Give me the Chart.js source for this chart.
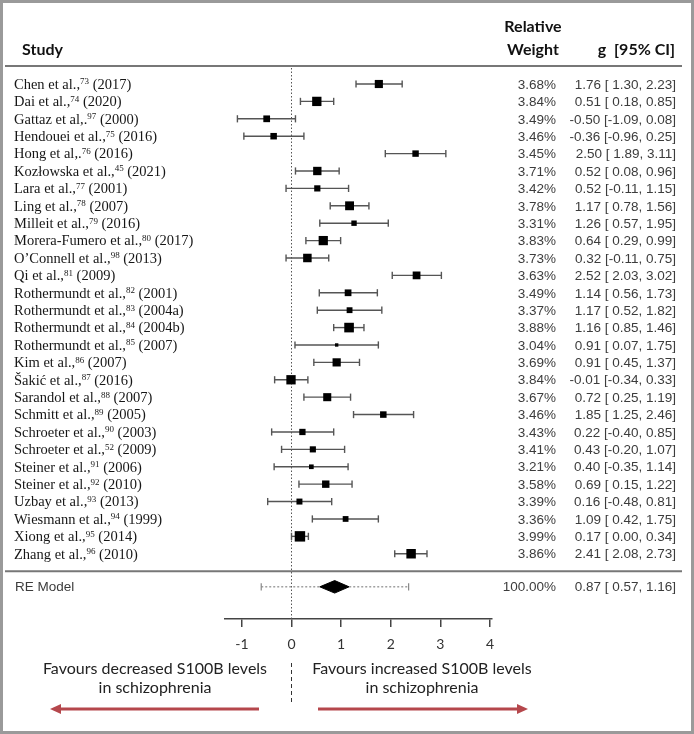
<!DOCTYPE html>
<html>
<head>
<meta charset="utf-8">
<script src="https://cdn.jsdelivr.net/npm/chart.js@4.4.1/dist/chart.umd.min.js"></script>
<style>
  html, body { margin: 0; padding: 0; background: #fff; }
  canvas { display: block; }
</style>
</head>
<body>
<canvas id="forest" width="694" height="734"></canvas>
<script>
// Study data
const authors = ['Chen et al.,', 'Dai et al.,', 'Gattaz et al,.', 'Hendouei et al.,', 'Hong et al,.',
    'Kozłowska et al.,', 'Lara et al.,', 'Ling et al.,', 'Milleit et al.,', 'Morera-Fumero et al.,',
    'O\u2019Connell et al.,', 'Qi et al.,', 'Rothermundt et al.,', 'Rothermundt et al.,', 'Rothermundt et al.,',
    'Rothermundt et al.,', 'Kim et al.,', 'Šakić et al.,', 'Sarandol et al.,', 'Schmitt et al.,',
    'Schroeter et al.,', 'Schroeter et al.,', 'Steiner et al.,', 'Steiner et al.,', 'Uzbay et al.,',
    'Wiesmann et al.,', 'Xiong et al.,', 'Zhang et al.,'];
const refs = ['73', '74', '97', '75', '76', '45', '77', '78', '79', '80', '98', '81', '82', '83', '84',
    '85', '86', '87', '88', '89', '90', '52', '91', '92', '93', '94', '95', '96'];
const years = ['2017', '2020', '2000', '2016', '2016', '2021', '2001', '2007', '2016', '2017', '2013',
    '2009', '2001', '2004a', '2004b', '2007', '2007', '2016', '2007', '2005', '2003', '2009', '2006',
    '2010', '2013', '1999', '2014', '2010'];
const weights = [3.68, 3.84, 3.49, 3.46, 3.45, 3.71, 3.42, 3.78, 3.31, 3.83, 3.73, 3.63, 3.49, 3.37,
    3.88, 3.04, 3.69, 3.84, 3.67, 3.46, 3.43, 3.41, 3.21, 3.58, 3.39, 3.36, 3.99, 3.86];
const effects = [1.76, 0.51, -0.50, -0.36, 2.50, 0.52, 0.52, 1.17, 1.26, 0.64, 0.32, 2.52, 1.14, 1.17,
    1.16, 0.91, 0.91, -0.01, 0.72, 1.85, 0.22, 0.43, 0.40, 0.69, 0.16, 1.09, 0.17, 2.41];
const lower = [1.30, 0.18, -1.09, -0.96, 1.89, 0.08, -0.11, 0.78, 0.57, 0.29, -0.11, 2.03, 0.56, 0.52,
    0.85, 0.07, 0.45, -0.34, 0.25, 1.25, -0.40, -0.20, -0.35, 0.15, -0.48, 0.42, 0.00, 2.08];
const upper = [2.23, 0.85, 0.08, 0.25, 3.11, 0.96, 1.15, 1.56, 1.95, 0.99, 0.75, 3.02, 1.73, 1.82,
    1.46, 1.75, 1.37, 0.33, 1.19, 2.46, 0.85, 1.07, 1.14, 1.22, 0.81, 1.75, 0.34, 2.73];

// Random effects summary
const pooled = [0.57, 0.87, 1.16];        // lower, estimate, upper
const predInterval = [-0.61, 2.36];
const pooledWeight = 100.00;

// Axis
const xTicks = [-1, 0, 1, 2, 3, 4];
const RE_ROW = 28.9;
const SEP_ROW = 28;

const fmtCI = (g, lo, hi) =>
    g.toFixed(2) + ' [' + (lo >= 0 ? ' ' : '') + lo.toFixed(2) + ', ' + hi.toFixed(2) + ']';

// square side grows with weight
const squareSide = w => 3.4 + (w - 3.04) * 7.4;

// Whisker datasets, one per study (the caps are the rotated 'line' points)
const whiskers = effects.map((g, i) => ({
    data: [{ x: lower[i], y: i }, { x: upper[i], y: i }],
    showLine: true,
    borderColor: '#555',
    borderWidth: 1.4,
    pointStyle: 'line',
    pointRotation: 90,
    pointRadius: 3.6,
    pointBorderColor: '#555',
    pointBorderWidth: 1.4,
    order: 2
}));

const datasets = [
    {
        label: 'Studies',
        data: effects.map((g, i) => ({ x: g, y: i })),
        pointStyle: 'rect',
        pointRadius: ctx => squareSide(weights[ctx.dataIndex]) / Math.SQRT2,
        pointBackgroundColor: '#000',
        pointBorderWidth: 0,
        order: 0
    },
    ...whiskers,
    {
        label: 'RE Model',
        data: [
            { x: pooled[0], y: RE_ROW },
            { x: pooled[1], y: RE_ROW - 0.36 },
            { x: pooled[2], y: RE_ROW },
            { x: pooled[1], y: RE_ROW + 0.36 },
            { x: pooled[0], y: RE_ROW }
        ],
        showLine: true,
        fill: 'shape',
        backgroundColor: '#000',
        borderColor: '#000',
        borderWidth: 1,
        pointRadius: 0,
        order: 0
    },
    {
        label: 'Prediction interval',
        data: [{ x: predInterval[0], y: RE_ROW }, { x: predInterval[1], y: RE_ROW }],
        showLine: true,
        borderColor: '#888',
        borderWidth: 1.2,
        borderDash: [2, 2],
        pointStyle: 'line',
        pointRotation: 90,
        pointRadius: 3.6,
        pointBorderColor: '#888',
        pointBorderWidth: 1.2,
        order: 1
    },
    {
        label: 'No effect',
        data: [{ x: 0, y: -0.92 }, { x: 0, y: 30.75 }],
        showLine: true,
        borderColor: '#555',
        borderWidth: 1,
        borderDash: [1.5, 2],
        pointRadius: 0,
        order: 3
    }
];

// Text columns, header, frame and bottom annotations
const forestText = {
    id: 'forestText',
    beforeDraw(chart) {
        const c = chart.ctx;
        c.save();
        c.fillStyle = '#fff';
        c.fillRect(0, 0, chart.width, chart.height);
        c.restore();
    },
    afterDraw(chart) {
        const c = chart.ctx;
        const ys = chart.scales.y;
        const xs = chart.scales.x;
        c.save();

        // frame
        c.strokeStyle = '#9a9a9a';
        c.lineWidth = 3;
        c.strokeRect(1.5, 1.5, chart.width - 3, chart.height - 3);

        // header
        c.fillStyle = '#111';
        c.font = 'bold 16px Lato';
        c.textBaseline = 'alphabetic';
        c.textAlign = 'left';
        c.fillText('Study', 22, 55);
        c.textAlign = 'center';
        c.fillText('Relative', 533, 32);
        c.fillText('Weight', 533, 55);
        c.textAlign = 'right';
        c.fillText('g  [95% CI]', 675, 55);

        // header and summary rules
        c.strokeStyle = '#777';
        c.lineWidth = 2;
        [ys.getPixelForValue(-1.04), ys.getPixelForValue(SEP_ROW)].forEach(y => {
            c.beginPath();
            c.moveTo(5, y);
            c.lineTo(682, y);
            c.stroke();
        });

        // study rows
        c.textBaseline = 'middle';
        authors.forEach((a, i) => {
            const y = ys.getPixelForValue(i) + 1;
            let x = 14;
            c.textAlign = 'left';
            c.fillStyle = '#161616';
            c.font = '14.5px "Liberation Serif"';
            c.fillText(a, x, y);
            x += c.measureText(a).width;
            c.font = '9px "Liberation Serif"';
            c.fillText(refs[i], x, y - 3);
            x += c.measureText(refs[i]).width;
            c.font = '14.5px "Liberation Serif"';
            c.fillText(' (' + years[i] + ')', x, y);

            c.textAlign = 'right';
            c.fillStyle = '#3c3c3c';
            c.font = '13.5px "Liberation Sans"';
            c.fillText(weights[i].toFixed(2) + '%', 556, y);
            c.fillText(fmtCI(effects[i], lower[i], upper[i]), 676, y);
        });

        // RE model row
        const yRE = ys.getPixelForValue(RE_ROW);
        c.font = '13.5px "Liberation Sans"';
        c.fillStyle = '#3c3c3c';
        c.textAlign = 'left';
        c.fillText('RE Model', 15, yRE);
        c.textAlign = 'right';
        c.fillText(pooledWeight.toFixed(2) + '%', 556, yRE);
        c.fillText(fmtCI(pooled[1], pooled[0], pooled[2]), 676, yRE);

        // favours labels
        c.font = '16px Lato';
        c.fillStyle = '#222';
        c.textAlign = 'center';
        c.fillText('Favours decreased S100B levels', 155, 669);
        c.fillText('in schizophrenia', 155, 688);
        c.fillText('Favours increased S100B levels', 422, 669);
        c.fillText('in schizophrenia', 422, 688);

        // dashed divider under zero
        const x0 = xs.getPixelForValue(0);
        c.strokeStyle = '#333';
        c.lineWidth = 1;
        c.setLineDash([4, 3]);
        c.beginPath();
        c.moveTo(x0, 663);
        c.lineTo(x0, 704);
        c.stroke();
        c.setLineDash([]);

        // arrows
        const arrow = (from, to, y) => {
            const dir = Math.sign(to - from);
            c.strokeStyle = '#b5474c';
            c.fillStyle = '#b5474c';
            c.lineWidth = 3;
            c.beginPath();
            c.moveTo(from, y);
            c.lineTo(to - dir * 9, y);
            c.stroke();
            c.beginPath();
            c.moveTo(to, y);
            c.lineTo(to - dir * 11, y - 5);
            c.lineTo(to - dir * 11, y + 5);
            c.closePath();
            c.fill();
        };
        arrow(259, 50, 709);
        arrow(318, 528, 709);

        c.restore();
    }
};

new Chart(document.getElementById('forest'), {
    type: 'scatter',
    data: { datasets },
    options: {
        responsive: false,
        animation: false,
        devicePixelRatio: 1,
        events: [],
        layout: { padding: { left: 225, right: 202, top: 68, bottom: 0 } },
        plugins: {
            legend: { display: false },
            tooltip: { enabled: false }
        },
        scales: {
            x: {
                type: 'linear',
                min: -1.34,
                max: 4.04,
                afterBuildTicks: scale => { scale.ticks = xTicks.map(v => ({ value: v })); },
                afterFit: scale => { scale.height = 115; },
                border: { display: true, color: '#444', width: 1.5 },
                grid: {
                    drawOnChartArea: false,
                    drawTicks: true,
                    tickLength: 8,
                    color: '#444',
                    lineWidth: 1.5
                },
                ticks: {
                    color: '#333',
                    padding: 9,
                    font: { family: 'Lato', size: 14 },
                    maxRotation: 0
                }
            },
            y: {
                type: 'linear',
                display: false,
                reverse: true,
                min: -0.92,
                max: 30.75
            }
        }
    },
    plugins: [forestText]
});
</script>
</body>
</html>
